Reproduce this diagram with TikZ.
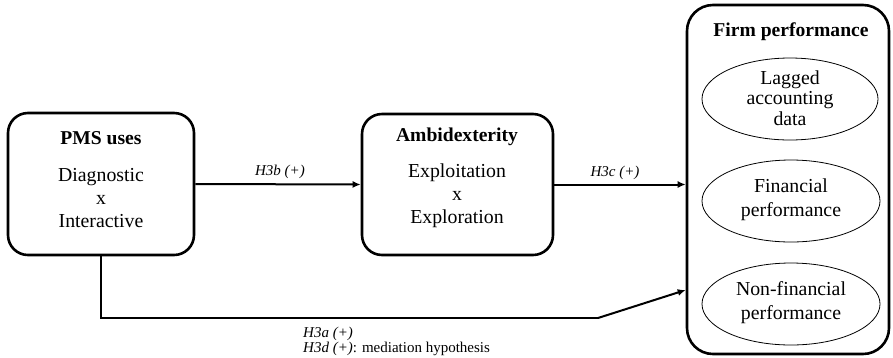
\documentclass[tikz,border=0pt]{standalone}
\usepackage{fontspec}
\setmainfont{Liberation Serif}
\usetikzlibrary{arrows.meta,shapes.geometric}
\begin{document}
\begin{tikzpicture}[x=1pt,y=-1pt,
  mainbox/.style={draw,line width=2.6pt,rounded corners=20pt,inner sep=0pt},
  ell/.style={draw,line width=0.8pt,ellipse,inner sep=0pt},
  big/.style={font=\fontsize{19.8}{23}\selectfont,align=center,inner sep=0pt},
  bigb/.style={font=\fontsize{19.6}{23}\selectfont\bfseries,align=center,inner sep=0pt},
  lab/.style={font=\fontsize{15}{16}\selectfont\itshape,inner sep=0pt},
  arr/.style={line width=2pt,-{Latex[length=8pt,width=7pt]}},
  conn/.style={line width=2pt}]
\useasboundingbox (0,0) rectangle (893,357);
% boxes
\node[mainbox,minimum width=186pt,minimum height=142pt] (pms) at (101,184) {};
\node[mainbox,minimum width=191pt,minimum height=141pt] (amb) at (457.5,184.5) {};
\node[mainbox,rounded corners=26pt,minimum width=202pt,minimum height=349pt] (firm) at (788,179.5) {};
% texts in boxes
\node[bigb] (pmst) at (101,138) {PMS uses};
\node[big] (pmsb) at (101,198) {Diagnostic\\x\\Interactive};
\node[bigb] (ambt) at (457,137) {Ambidexterity};
\node[big] (ambb) at (457,195.5) {Exploitation\\x\\Exploration};
\node[bigb] (firmt) at (791,32) {Firm performance};
% ellipses
\node[ell,minimum width=176pt,minimum height=82pt] (e1) at (790,99) {};
\node[big,font=\fontsize{19.8}{20.5}\selectfont] (e1t) at (790,98) {Lagged\\accounting\\data};
\node[ell,minimum width=178pt,minimum height=82pt] (e2) at (791,201) {};
\node[big,font=\fontsize{19.8}{24}\selectfont] (e2t) at (791,200) {Financial\\performance};
\node[ell,minimum width=178pt,minimum height=82pt] (e3) at (791,304) {};
\node[big,font=\fontsize{19.8}{24}\selectfont] (e3t) at (791,303) {Non-financial\\performance};
% connectors
\draw[arr] (pms.east) -- (amb.west);
\draw[arr] (amb.east) -- (firm.west |- amb.east);
\coordinate (b1) at (101,318);
\coordinate (b2) at (598,318);
\coordinate (b3y) at (0,290);
\draw[conn] (pms.south) -- (b1) -- (b2);
\draw[arr] (b2) -- (firm.west |- b3y);
% labels
\node[lab] (h3b) at (280,172) {H3b (+)};
\node[lab] (h3c) at (615,173) {H3c (+)};
\node[lab,anchor=west] (h3a) at (303,334) {H3a (+)};
\node[lab,anchor=west] (h3d) at (303,348.5) {H3d (+)\upshape: mediation hypothesis};
\end{tikzpicture}
\end{document}
